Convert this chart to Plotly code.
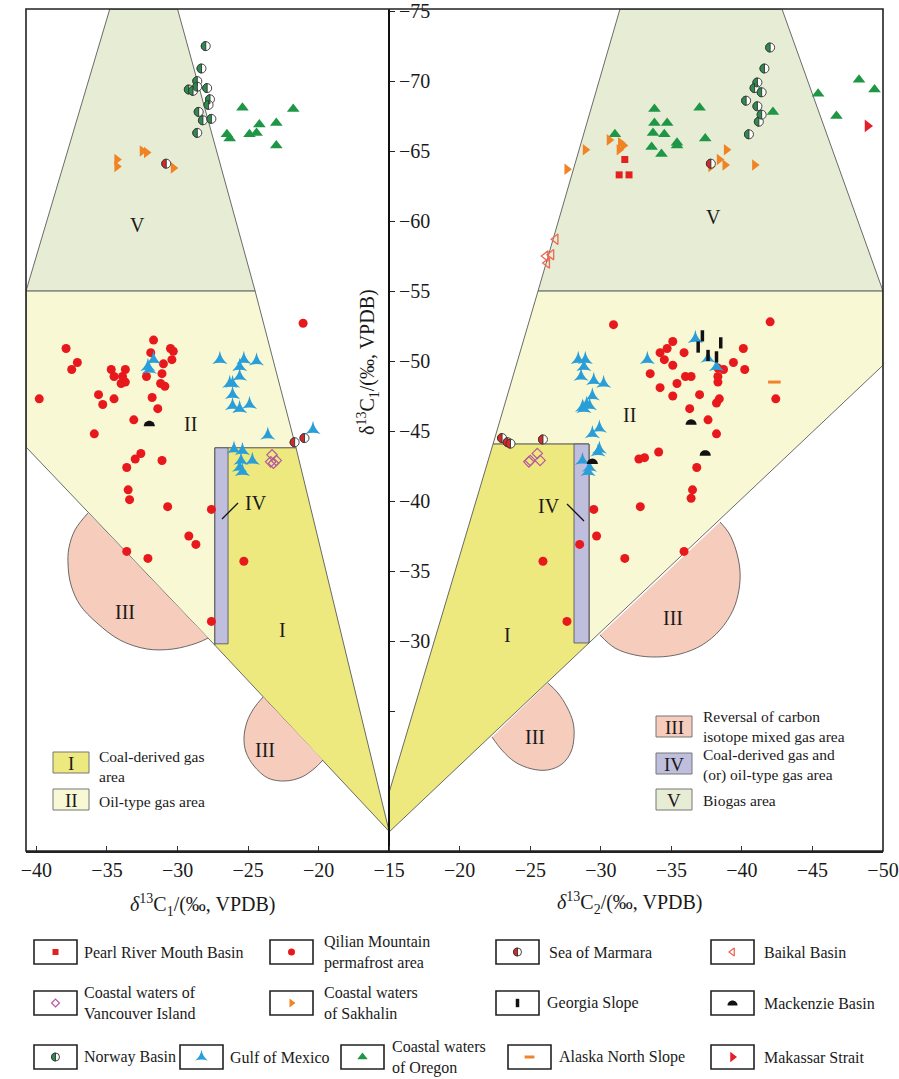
import math
import plotly.graph_objects as go

# ------------------------------------------------------------------
# DATA  (‰ VPDB)
# left half : x = δ13C1 (lower-left axis),  y = δ13C1
# right half: x = δ13C2 (lower-right axis), y = δ13C1
# ------------------------------------------------------------------
qilian_L_x = [-21.1, -37.9, -31.7, -30.5, -30.3, -31.9, -37.1, -31.0, -30.4, -37.5, -34.7, -33.7,
              -34.5, -33.9, -34.0, -33.7, -32.2, -31.1, -31.2, -30.9, -39.8, -35.6, -35.3, -34.5,
              -31.8, -31.4, -33.1, -35.9, -32.6, -33.0, -31.1, -33.6, -33.5, -33.4, -30.7, -27.6,
              -29.2, -28.7, -33.6, -32.1, -25.3, -27.6]
qilian_L_y = [-52.7, -50.9, -51.5, -50.9, -50.7, -50.6, -49.9, -49.8, -50.1, -49.4, -49.4, -49.4,
              -48.9, -48.9, -48.4, -48.5, -48.9, -49.1, -48.4, -48.2, -47.3, -47.6, -46.9, -47.3,
              -47.4, -46.6, -45.8, -44.8, -43.4, -43.0, -42.9, -42.4, -40.8, -40.1, -39.6, -39.4,
              -37.5, -36.9, -36.4, -35.9, -35.7, -31.4]
qilian_R_x = [-30.9, -42.0, -35.1, -34.2, -34.7, -35.9, -34.5, -35.1, -33.5, -36.0, -36.4, -34.2,
              -35.4, -35.1, -37.0, -39.4, -40.1, -40.2, -38.3, -38.7, -38.3, -38.3, -38.4, -38.2,
              -42.4, -36.3, -37.6, -38.2, -34.1, -32.7, -33.1, -36.8, -36.5, -36.4, -32.8, -29.5,
              -29.7, -28.5, -31.7, -35.9, -25.9, -27.6]
qilian_R_y = [-52.6, -52.8, -51.4, -50.6, -50.9, -50.6, -50.1, -49.7, -49.1, -48.9, -48.9, -48.1,
              -48.4, -47.5, -47.6, -49.9, -50.9, -49.4, -49.5, -49.4, -48.9, -48.5, -47.3, -47.0,
              -47.3, -46.6, -45.8, -44.8, -43.5, -43.0, -43.1, -42.4, -40.8, -40.2, -39.6, -39.4,
              -37.5, -36.9, -35.9, -36.4, -35.7, -31.4]

norway_L_x = [-28.0, -28.3, -28.6, -28.6, -29.2, -28.9, -27.9, -27.7, -27.8, -28.5, -28.2, -27.6, -28.6]
norway_L_y = [-72.5, -70.9, -70.0, -69.6, -69.4, -69.3, -69.5, -68.7, -68.3, -67.8, -67.2, -67.3, -66.3]
norway_R_x = [-42.0, -41.6, -41.1, -40.9, -41.4, -40.3, -41.1, -41.4, -41.2, -40.5]
norway_R_y = [-72.4, -70.9, -69.9, -69.5, -69.2, -68.6, -68.2, -67.6, -67.1, -66.2]

marmara_L_x = [-30.8, -21.7, -21.0]
marmara_L_y = [-64.1, -44.2, -44.5]
marmara_R_x = [-37.8, -23.0, -23.4, -23.6, -25.9]
marmara_R_y = [-64.1, -44.5, -44.2, -44.1, -44.4]

sakhalin_L_x = [-34.3, -34.3, -32.5, -32.2, -30.3]
sakhalin_L_y = [-64.4, -63.9, -65.0, -64.9, -63.8]
sakhalin_R_x = [-27.6, -28.9, -30.6, -31.4, -31.6, -31.3, -37.8, -38.4, -38.8, -38.9, -40.9]
sakhalin_R_y = [-63.7, -65.1, -65.8, -65.6, -65.4, -65.1, -63.9, -64.4, -64.0, -65.1, -64.0]

oregon_L_x = [-25.4, -21.8, -24.2, -23.0, -26.5, -26.3, -24.9, -24.4, -23.0]
oregon_L_y = [-68.1, -68.0, -66.9, -67.0, -66.2, -65.9, -66.2, -66.3, -65.4]
oregon_R_x = [-31.0, -33.8, -33.8, -34.7, -33.7, -34.5, -33.6, -34.3, -35.4, -35.4, -37.0, -37.4,
              -42.2, -45.4, -48.3, -49.4, -46.7]
oregon_R_y = [-66.2, -68.0, -67.0, -67.0, -66.3, -66.2, -65.3, -64.8, -65.6, -65.4, -68.1, -65.9,
              -67.8, -69.1, -70.1, -69.4, -67.5]

gulf_L_x = [-31.7, -32.1, -32.0, -27.0, -25.3, -24.4, -25.6, -25.6, -26.3, -26.1, -26.1, -26.1,
            -25.6, -24.9, -23.6, -20.4, -26.0, -25.4, -25.5, -24.7, -25.6, -25.4]
gulf_L_y = [-50.1, -49.6, -49.4, -50.1, -50.1, -50.0, -49.6, -48.9, -48.4, -48.4, -47.6, -46.8,
            -46.6, -46.9, -44.7, -45.1, -43.7, -43.6, -42.9, -42.9, -42.4, -42.1]
gulf_R_x = [-28.4, -28.9, -28.8, -28.6, -29.5, -30.2, -29.4, -29.0, -28.7, -28.8, -29.2, -29.9,
            -29.4, -29.9, -29.8, -28.7, -29.2, -29.1, -36.7, -33.3, -37.6, -38.2]
gulf_R_y = [-50.1, -50.1, -49.6, -48.9, -48.6, -48.4, -47.5, -46.9, -46.7, -46.6, -46.8, -45.2,
            -44.8, -43.7, -43.5, -42.9, -42.4, -42.1, -51.6, -50.1, -50.2, -49.6]

vancouver_L_x = [-23.3, -23.0, -23.4, -23.2]
vancouver_L_y = [-43.3, -42.9, -42.8, -42.7]
vancouver_R_x = [-25.0, -25.5, -25.7, -24.9]
vancouver_R_y = [-42.9, -43.4, -42.9, -42.8]

mackenzie_L_x = [-32.0]
mackenzie_L_y = [-45.5]
mackenzie_R_x = [-36.4, -37.4, -29.4]
mackenzie_R_y = [-45.6, -43.4, -42.8]

pearl_R_x = [-31.7, -31.3, -32.0]
pearl_R_y = [-64.4, -63.3, -63.3]
baikal_R_x = [-26.8, -26.1, -26.5, -26.2]
baikal_R_y = [-58.7, -57.5, -57.6, -57.0]
georgia_R_x = [-37.2, -38.5, -36.9, -37.6, -38.2]
georgia_R_y = [-51.8, -51.3, -51.0, -50.4, -50.3]
alaska_R_x = [-42.3]
alaska_R_y = [-48.5]
makassar_R_x = [-48.9]
makassar_R_y = [-66.8]

# genetic-area boundaries (‰)
V_L_x = [-40.74, -34.8, -30.0, -24.5]
V_L_y = [-55.0, -75.15, -75.15, -55.0]
II_L_x = [-40.74, -24.5, -21.6, -27.35, -27.35, -40.74]
II_L_y = [-55.0, -55.0, -43.8, -43.8, -29.7, -43.86]
I_L_x = [-27.35, -21.6, -15.0, -27.35]
I_L_y = [-43.8, -43.8, -16.4, -29.7]
IV_L_x = [-27.35, -26.42, -26.42, -27.35]
IV_L_y = [-43.8, -43.8, -29.8, -29.8]
III_L1_x = [-36.35, -37.27, -37.70, -37.76, -37.55, -36.91, -35.71, -34.08, -32.17, -30.32, -28.62, -27.84]
III_L1_y = [-39.14, -37.93, -36.64, -35.43, -34.0, -32.57, -31.29, -30.07, -29.43, -29.43, -29.86, -30.21]
III_L2_x = [-23.94, -24.58, -25.08, -25.29, -25.15, -24.58, -23.59, -22.39, -21.18, -20.26, -19.69]
III_L2_y = [-26.0, -25.21, -24.21, -23.07, -22.07, -21.07, -20.21, -20.0, -20.29, -20.93, -21.5]

V_R_x = [-25.55, -31.36, -42.84, -50.0]
V_R_y = [-55.0, -75.15, -75.15, -55.0]
II_R_x = [-25.55, -50.0, -50.0, -29.16, -29.16, -22.36]
II_R_y = [-55.0, -55.0, -49.7, -29.86, -44.07, -44.07]
I_R_x = [-22.36, -29.16, -29.16, -15.0, -15.0]
I_R_y = [-44.07, -44.07, -29.86, -16.36, -19.2]
IV_R_x = [-28.1, -29.16, -29.16, -28.1]
IV_R_y = [-44.07, -44.07, -29.86, -29.86]
III_R1_x = [-29.94, -31.0, -32.42, -33.97, -35.61, -37.17, -38.45, -39.37, -39.79, -39.86, -39.58, -39.08, -38.45]
III_R1_y = [-30.43, -29.5, -29.0, -28.86, -29.07, -29.71, -30.79, -32.21, -33.64, -35.07, -36.5, -37.71, -38.5]
III_R2_x = [-26.25, -26.96, -27.60, -28.03, -28.1, -27.88, -27.25, -26.25, -25.12, -23.92, -22.99, -22.29]
III_R2_y = [-27.0, -26.29, -25.29, -24.21, -23.14, -22.07, -21.21, -20.79, -20.86, -21.36, -22.21, -23.14]

x_tick_pos = [-40, -35, -30, -25, -20, -15, -10, -5, 0, 5, 10, 15, 20]
x_tick_txt = ["−40", "−35", "−30", "−25", "−20", "−15", "−20", "−25", "−30", "−35", "−40", "−45", "−50"]
y_tick_pos = [-75, -70, -65, -60, -55, -50, -45, -40, -35, -30, -25]
y_tick_txt = ["−75", "−70", "−65", "−60", "−55", "−50", "−45", "−40", "−35", "−30", " "]

# ------------------------------------------------------------------
# geometry / style
# ------------------------------------------------------------------
W, H = 899, 1079
ML, MR, MT, MB = 26, 16, 9, 5
X_RANGE = [-40.74, 20.0]
Y_RANGE = [-15.0, -75.15]
PLOT_BOTTOM = 851
plot_w = W - ML - MR
plot_h = H - MT - MB
dom_y0 = (H - MB - PLOT_BOTTOM) / plot_h
pxx = plot_w / (X_RANGE[1] - X_RANGE[0])
pxy = (PLOT_BOTTOM - MT) / abs(Y_RANGE[1] - Y_RANGE[0])
yaxis_pos = (-15 - X_RANGE[0]) / (X_RANGE[1] - X_RANGE[0])

FONT = "Liberation Serif"
C_V, C_II, C_I, C_IV, C_III = "#e7edd5", "#f9f8d4", "#ede97f", "#c0bedd", "#f6ccbd"
EDGE = "#5a5a5a"


def R(vals):
    """mirror δ13C2 values onto the right half of the shared axis"""
    return [-30.0 - v for v in vals]


fig = go.Figure()


def region(xs, ys, color, spline=False):
    fig.add_trace(go.Scatter(
        x=xs, y=ys, mode="lines", fill="toself", fillcolor=color,
        line=dict(color=EDGE, width=0.9, shape="spline" if spline else "linear"),
        hoverinfo="skip", showlegend=False))


def closed(xs, ys):
    return xs + xs[:1], ys + ys[:1]


for xs, ys, c in [(V_L_x, V_L_y, C_V), (II_L_x, II_L_y, C_II), (I_L_x, I_L_y, C_I), (IV_L_x, IV_L_y, C_IV)]:
    region(*closed(xs, ys), c)
for xs, ys, c in [(V_R_x, V_R_y, C_V), (II_R_x, II_R_y, C_II), (I_R_x, I_R_y, C_I), (IV_R_x, IV_R_y, C_IV)]:
    region(*closed(R(xs), ys), c)
region(III_L1_x, III_L1_y, C_III, True)
region(III_L2_x, III_L2_y, C_III, True)
region(R(III_R1_x), III_R1_y, C_III, True)
region(R(III_R2_x), III_R2_y, C_III, True)

# series styles
STY = {
    "pearl": dict(symbol="square", size=7, color="#e3211f"),
    "qilian": dict(symbol="circle", size=9, color="#e8191c"),
    "baikal": dict(symbol="triangle-left-open", size=9, color="#ea6a55", line=dict(color="#ea6a55", width=1.3)),
    "vancouver": dict(symbol="diamond-open", size=8, color="#b5579f", line=dict(color="#b5579f", width=1.2)),
    "sakhalin": dict(symbol="triangle-right", size=10, color="#f08424"),
    "georgia": dict(symbol="line-ns", size=8, color="#111111", line=dict(color="#111111", width=3.5)),
    "gulf": dict(symbol="star-triangle-up", size=11, color="#2a9ed9"),
    "oregon": dict(symbol="triangle-up", size=11, color="#1e9646"),
    "alaska": dict(symbol="line-ew", size=9, color="#f0842c", line=dict(color="#f0842c", width=3)),
    "makassar": dict(symbol="triangle-right", size=11, color="#e61e2a"),
    "halfbase": dict(symbol="circle", size=9, color="white", line=dict(color="#333333", width=0.9)),
}
HALF_COL = {"norway": "#2e8b4e", "marmara": "#d3292b"}


def pts(name, xs, ys, style, xa="x", ya="y"):
    fig.add_trace(go.Scatter(x=xs, y=ys, mode="markers", marker=style, name=name,
                             xaxis=xa, yaxis=ya, showlegend=False, hoverinfo="x+y+name"))


pts("Qilian Mountain permafrost area", qilian_L_x, qilian_L_y, STY["qilian"])
pts("Qilian Mountain permafrost area", R(qilian_R_x), qilian_R_y, STY["qilian"])
pts("Gulf of Mexico", gulf_L_x, gulf_L_y, STY["gulf"])
pts("Gulf of Mexico", R(gulf_R_x), gulf_R_y, STY["gulf"])
pts("Coastal waters of Oregon", oregon_L_x, oregon_L_y, STY["oregon"])
pts("Coastal waters of Oregon", R(oregon_R_x), oregon_R_y, STY["oregon"])
pts("Coastal waters of Sakhalin", sakhalin_L_x, sakhalin_L_y, STY["sakhalin"])
pts("Coastal waters of Sakhalin", R(sakhalin_R_x), sakhalin_R_y, STY["sakhalin"])
pts("Coastal waters of Vancouver Island", vancouver_L_x, vancouver_L_y, STY["vancouver"])
pts("Coastal waters of Vancouver Island", R(vancouver_R_x), vancouver_R_y, STY["vancouver"])
pts("Pearl River Mouth Basin", R(pearl_R_x), pearl_R_y, STY["pearl"])
pts("Baikal Basin", R(baikal_R_x), baikal_R_y, STY["baikal"])
pts("Georgia Slope", R(georgia_R_x), georgia_R_y, STY["georgia"])
pts("Alaska North Slope", R(alaska_R_x), alaska_R_y, STY["alaska"])
pts("Makassar Strait", R(makassar_R_x), makassar_R_y, STY["makassar"])
pts("Norway Basin", norway_L_x, norway_L_y, STY["halfbase"])
pts("Norway Basin", R(norway_R_x), norway_R_y, STY["halfbase"])
pts("Sea of Marmara", marmara_L_x, marmara_L_y, STY["halfbase"])
pts("Sea of Marmara", R(marmara_R_x), marmara_R_y, STY["halfbase"])
pts("Mackenzie Basin", mackenzie_L_x, mackenzie_L_y, dict(symbol="circle", size=10, opacity=0))
pts("Mackenzie Basin", R(mackenzie_R_x), mackenzie_R_y, dict(symbol="circle", size=10, opacity=0))

shapes = []


def half_shape(cx, cy, rx, ry, part, fill, xref, yref, line_col=None, n=16):
    if part == "left":
        angs = [math.pi / 2 + math.pi * i / n for i in range(n + 1)]
        p = [(cx + rx * math.cos(a), cy + ry * math.sin(a)) for a in angs]
    else:  # top half (smaller y value = higher on screen in both y axes)
        angs = [math.pi * i / n for i in range(n + 1)]
        p = [(cx + rx * math.cos(a), cy - ry * math.sin(a)) for a in angs]
    path = "M" + " L".join(f"{x:.4f},{y:.4f}" for x, y in p) + " Z"
    shapes.append(dict(type="path", path=path, xref=xref, yref=yref, fillcolor=fill,
                       line=dict(color=line_col or fill, width=0.9 if line_col else 0), layer="above"))


R_HALF = 4.5   # px
R_MACK = 5.5   # px
for key, xs, ys in [("norway", norway_L_x, norway_L_y), ("norway", R(norway_R_x), norway_R_y),
                    ("marmara", marmara_L_x, marmara_L_y), ("marmara", R(marmara_R_x), marmara_R_y)]:
    for x, y in zip(xs, ys):
        half_shape(x, y, R_HALF / pxx, R_HALF / pxy, "left", HALF_COL[key], "x", "y", "#333333")
for xs, ys in [(mackenzie_L_x, mackenzie_L_y), (R(mackenzie_R_x), mackenzie_R_y)]:
    for x, y in zip(xs, ys):
        half_shape(x, y + 2.2 / pxy, R_MACK / pxx, R_MACK / pxy, "top", "#111111", "x", "y")

# frame
shapes.append(dict(type="rect", xref="x domain", yref="y domain", x0=0, x1=1, y0=0, y1=1,
                   line=dict(color="#222222", width=1.6), fillcolor="rgba(0,0,0,0)", layer="above"))

annotations = []


def txt(s, x, y, size=20, xanchor="center", yanchor="middle", angle=0, align="left"):
    annotations.append(dict(text=s, x=x, y=y, xref="x2", yref="y2", showarrow=False,
                            xanchor=xanchor, yanchor=yanchor, textangle=angle, align=align,
                            font=dict(family=FONT, size=size, color="#1a1a1a")))


# region labels (pixel positions on the overlay axis)
for s, x, y in [("V", 137, 225), ("V", 713, 217), ("II", 190, 424), ("II", 629, 415),
                ("I", 282, 630), ("I", 507, 635), ("IV", 256, 503), ("IV", 549, 506),
                ("III", 125, 612), ("III", 265, 750), ("III", 673, 618), ("III", 535, 737)]:
    txt(s, x, y, 20)
for x0, y0, x1, y1 in [(238, 503, 222, 519), (567, 504, 584, 521)]:
    shapes.append(dict(type="line", xref="x2", yref="y2", x0=x0, y0=y0, x1=x1, y1=y1,
                       line=dict(color="#111111", width=1.3), layer="above"))

# axis titles
txt("<i>δ</i><sup>13</sup>C<sub>1</sub>/(‰, VPDB)", 203, 905, 20)
txt("<i>δ</i><sup>13</sup>C<sub>2</sub>/(‰, VPDB)", 630, 903, 20)
txt("δ<sup>13</sup>C<sub>1</sub>/(‰, VPDB)", 368, 362, 20, angle=-90)

# in-plot area legends
for lab, col, x0, y0, x1, y1 in [("I", C_I, 53, 752, 89, 773), ("II", C_II, 53, 789, 89, 810),
                                 ("III", C_III, 656, 716, 692, 737), ("IV", C_IV, 656, 753, 692, 774),
                                 ("V", C_V, 656, 789, 692, 810)]:
    shapes.append(dict(type="rect", xref="x2", yref="y2", x0=x0, x1=x1, y0=y0, y1=y1,
                       fillcolor=col, line=dict(color="#777777", width=1), layer="above"))
    txt(lab, (x0 + x1) / 2, (y0 + y1) / 2 + 1, 19)
for s, x, y in [("Coal-derived gas<br>area", 97, 766), ("Oil-type gas area", 97, 801),
                ("Reversal of carbon<br>isotope mixed gas area", 701, 726),
                ("Coal-derived gas and<br>(or) oil-type gas area", 701, 765),
                ("Biogas area", 701, 800)]:
    txt(s, x, y, 15.5, xanchor="left")

# bottom legend
leg_keys = ["pearl", "qilian", "marmara", "baikal", "vancouver", "sakhalin", "georgia",
            "mackenzie", "norway", "gulf", "oregon", "alaska", "makassar"]
leg_text = ["Pearl River Mouth Basin", "Qilian Mountain<br>permafrost area", "Sea of Marmara",
            "Baikal Basin", "Coastal waters of<br>Vancouver Island", "Coastal waters<br>of Sakhalin",
            "Georgia Slope", "Mackenzie Basin", "Norway Basin", "Gulf of Mexico",
            "Coastal waters<br>of Oregon", "Alaska North Slope", "Makassar Strait"]
leg_box_x = [34, 270, 496, 711, 34, 270, 496, 711, 34, 180, 341, 508, 711]
leg_text_x = [82, 322, 547, 762, 82, 322, 545, 762, 82, 228, 390, 557, 762]
leg_row = [0, 0, 0, 0, 1, 1, 1, 1, 2, 2, 2, 2, 2]
row_y = [952, 1003, 1057]
BOX_W, BOX_H = 43, 24

for key, lab, bx, tx, r in zip(leg_keys, leg_text, leg_box_x, leg_text_x, leg_row):
    cy = row_y[r]
    cx = bx + BOX_W / 2
    shapes.append(dict(type="rect", xref="x2", yref="y2", x0=bx, x1=bx + BOX_W,
                       y0=cy - BOX_H / 2, y1=cy + BOX_H / 2,
                       line=dict(color="#222222", width=1.6), fillcolor="white", layer="below"))
    txt(lab, tx, cy, 16, xanchor="left")
    if key in ("norway", "marmara"):
        st = dict(STY["halfbase"], size=8)
        pts(key, [cx], [cy], st, "x2", "y2")
        half_shape(cx, cy, 4, 4, "left", HALF_COL[key], "x2", "y2", "#333333")
    elif key == "mackenzie":
        half_shape(cx, cy + 2.5, 5, 5, "top", "#111111", "x2", "y2")
    else:
        st = dict(STY[key])
        st["size"] = max(6, st["size"] - 2)
        pts(key, [cx], [cy], st, "x2", "y2")

fig.update_layout(
    width=W, height=H,
    margin=dict(l=ML, r=MR, t=MT, b=MB, autoexpand=False),
    paper_bgcolor="white", plot_bgcolor="rgba(0,0,0,0)",
    showlegend=False,
    font=dict(family=FONT, size=20, color="#1a1a1a"),
    xaxis=dict(domain=[0, 1], range=X_RANGE, anchor="y", tickvals=x_tick_pos, ticktext=x_tick_txt,
               ticks="inside", ticklen=5, tickcolor="#333", showline=True, linecolor="#222", linewidth=1.6,
               showgrid=False, zeroline=False, automargin=False,
               tickfont=dict(family=FONT, size=20, color="#1a1a1a")),
    yaxis=dict(domain=[dom_y0, 1], range=Y_RANGE, anchor="free", position=yaxis_pos, side="right",
               tickvals=y_tick_pos, ticktext=y_tick_txt, ticks="outside", ticklen=5, tickcolor="#222",
               showline=True, linecolor="#111", linewidth=1.6, showgrid=False, zeroline=False,
               automargin=False, tickfont=dict(family=FONT, size=20, color="#1a1a1a")),
    xaxis2=dict(domain=[0, 1], range=[ML, W - MR], anchor="y2", visible=False, fixedrange=True,
                automargin=False),
    yaxis2=dict(domain=[0, 1], range=[H - MB, MT], anchor="x2", visible=False, fixedrange=True,
                automargin=False),
    shapes=shapes,
    annotations=annotations,
)

fig.write_html("out.html", config={"displayModeBar": False},
               post_script="document.body.style.margin='0';document.body.style.overflow='hidden';")
